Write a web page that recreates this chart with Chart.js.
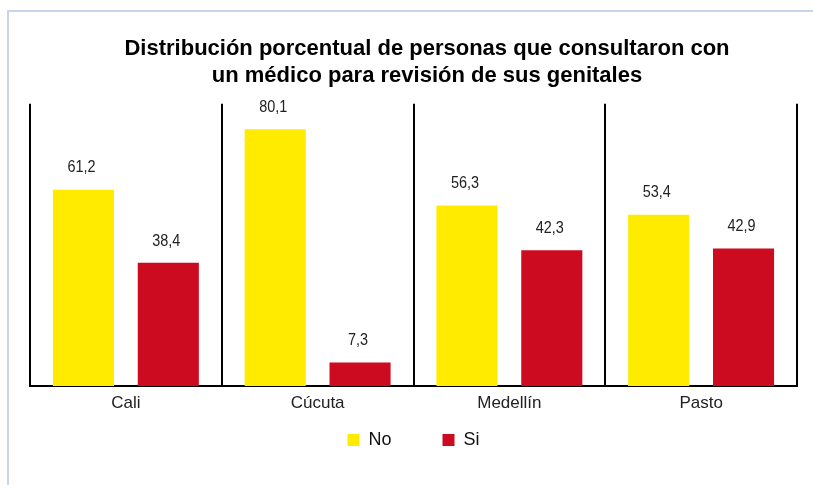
<!DOCTYPE html>
<html>
<head>
<meta charset="utf-8">
<script src="https://cdn.jsdelivr.net/npm/chart.js@4"></script>
<style>
  html, body { margin: 0; padding: 0; background: #fff; overflow: hidden; }
  #frame { position: absolute; left: 7px; top: 10px; width: 820px; height: 480px;
           border-left: 2px solid #c9d4ec; border-top: 2px solid #c9d4ec; }
  #wrap { position: absolute; left: 0; top: 0; width: 854px; height: 485px; }
</style>
</head>
<body>
<div id="frame"></div>
<div id="wrap"><canvas id="grafico" width="854" height="485"></canvas></div>
<script>
// datos del gráfico
const ciudades = ['Cali', 'Cúcuta', 'Medellín', 'Pasto'];
const valoresNo = [61.2, 80.1, 56.3, 53.4];
const valoresSi = [38.4, 7.3, 42.3, 42.9];

// etiquetas de valor sobre cada barra (coma decimal, letra algo estrecha)
const etiquetas = {
    id: 'etiquetas',
    afterDatasetsDraw(chart) {
        const ctx = chart.ctx;
        chart.data.datasets.forEach((ds, i) => {
            chart.getDatasetMeta(i).data.forEach((bar, j) => {
                const txt = ds.data[j].toFixed(1).replace('.', ',');
                ctx.save();
                ctx.translate(bar.x - 2, bar.y - 22);
                ctx.scale(0.85, 1);
                ctx.font = '17px "Liberation Sans", Arial, sans-serif';
                ctx.fillStyle = '#222';
                ctx.textAlign = 'center';
                ctx.textBaseline = 'middle';
                ctx.fillText(txt, 0, 0);
                ctx.restore();
            });
        });
    }
};

// ejes invisibles que solo reservan margen a cada lado
function margen(ancho) {
    return {
        display: true,
        ticks: { display: false },
        grid: { display: false },
        border: { display: false },
        afterFit(scale) { scale.width = ancho; }
    };
}

const canvas = document.getElementById('grafico');
const grafico = new Chart(canvas, {
    type: 'bar',
    data: {
        labels: ciudades,
        datasets: [{
            label: 'No',
            data: valoresNo,
            backgroundColor: '#FFEB00'
        }, {
            label: 'Si',
            data: valoresSi,
            backgroundColor: '#CC0A20'
        }]
    },
    options: {
        responsive: false,
        animation: false,
        devicePixelRatio: 1,
        categoryPercentage: 0.885,
        barPercentage: 0.72,
        layout: { padding: { left: 0, right: 0, bottom: 26 } },
        scales: {
            x: {
                grid: { color: '#000', lineWidth: 2, offset: true, drawTicks: false },
                border: { color: '#000', width: 2 },
                ticks: { color: '#222', padding: 7, maxRotation: 0, font: { family: '"Liberation Sans", Arial, sans-serif', size: 17 } },
                afterFit(scale) { scale.height = 30; }
            },
            y: Object.assign(margen(30), { position: 'left', min: 0, max: 88 }),
            der: Object.assign(margen(57), { position: 'right', min: 0, max: 88 })
        },
        plugins: {
            title: {
                display: true,
                text: ['Distribución porcentual de personas que consultaron con', 'un médico para revisión de sus genitales'],
                color: '#000',
                font: { family: '"Liberation Sans", Arial, sans-serif', size: 22, weight: 'bold', lineHeight: 1.2 },
                padding: { top: 36, bottom: 15 }
            },
            legend: {
                position: 'bottom',
                fullSize: false,
                labels: {
                    color: '#111',
                    boxWidth: 12,
                    boxHeight: 12,
                    padding: 15,
                    font: { family: '"Liberation Sans", Arial, sans-serif', size: 18 },
                    // hueco vacío entre "No" y "Si"
                    generateLabels(chart) {
                        const items = Chart.defaults.plugins.legend.labels.generateLabels(chart);
                        items.splice(1, 0, {
                            text: '',
                            fillStyle: 'rgba(0,0,0,0)',
                            strokeStyle: 'rgba(0,0,0,0)',
                            lineWidth: 0,
                            hidden: false,
                            datasetIndex: -1
                        });
                        return items;
                    }
                }
            },
            tooltip: { enabled: false }
        }
    },
    plugins: [etiquetas]
});
</script>
</body>
</html>
